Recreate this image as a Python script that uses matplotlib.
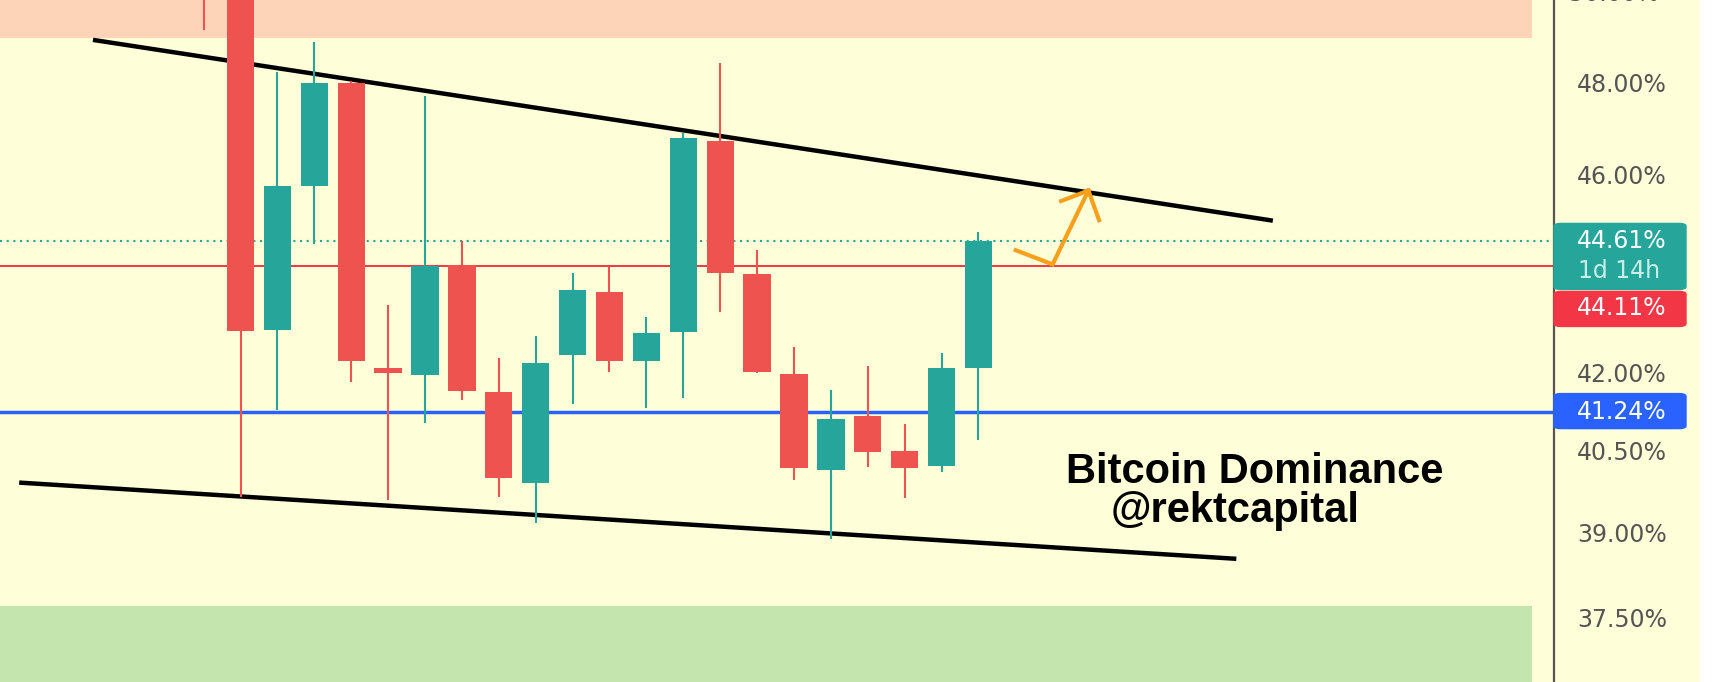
'''
Bitcoin Dominance daily candles with falling wedge trendlines.
'''

import matplotlib.pyplot as plt
from matplotlib.patches import Rectangle, FancyBboxPatch
from matplotlib.ticker import NullLocator, FixedLocator

# candle data (BTC dominance, %)
opens = [51.00, 50.30, 42.83, 45.77, 48.00, 42.07, 41.95, 44.13, 41.61, 39.91, 42.33,
         43.59, 42.22, 42.78, 46.73, 43.95, 41.97, 40.14, 41.15, 40.50, 40.22, 42.07]
highs = [51.50, 50.50, 48.24, 48.91, 48.05, 43.31, 47.71, 44.62, 42.27, 42.70, 43.97,
         44.08, 43.09, 46.89, 48.44, 44.44, 42.48, 41.65, 42.12, 41.00, 42.37, 44.80]
lows = [49.19, 39.65, 41.27, 44.55, 41.80, 39.59, 41.02, 41.46, 39.65, 39.17, 41.38,
        42.01, 41.31, 41.50, 43.18, 41.99, 39.95, 38.88, 40.20, 39.63, 40.10, 40.71]
closes = [50.20, 42.81, 45.77, 48.00, 42.22, 41.99, 44.11, 41.63, 39.99, 42.18, 43.62,
          42.22, 42.76, 46.80, 43.97, 42.01, 40.18, 41.10, 40.48, 40.18, 42.07, 44.61]

# horizontal levels
last_price = 44.61
red_level = 44.11
blue_level = 41.24
countdown = "1d 14h"

# wedge trendlines (bar index, %)
upper_x = [-3.0, 28.98]
upper_y = [48.96, 45.04]
lower_x = [-5.0, 27.99]
lower_y = [39.91, 38.53]

# orange projection arrow
arrow_x = [22.01, 23.01, 23.98]
arrow_y = [44.43, 44.14, 45.67]
arm_x = [23.24, 23.98, 24.27]
arm_y = [45.45, 45.67, 45.05]

# zones
zone_top = 49.0
zone_bottom = 37.7

yticks = [37.5, 39.0, 40.5, 42.0, 46.0, 48.0]

# colours
bg = '#fefed9'
up_col = '#26a69a'
down_col = '#ef5350'

W, H = 1722, 682
axis_px = 1554

fig = plt.figure(figsize=(W / 100, H / 100), dpi=100)
fig.patch.set_facecolor('white')
fig.patches.append(Rectangle((axis_px / W, 0), (1698 - axis_px) / W, 1,
                             transform=fig.transFigure, color=bg, zorder=-5))

ax = fig.add_axes([0, 0, axis_px / W, 1])
ax.set_facecolor(bg)
ax.set_yscale('log')
ax.set_ylim(36.40, 49.87)
ax.set_xlim(-5.52, 36.6)

zone_frac = (36.0 + 5.52) / (36.6 + 5.52)
ax.axhspan(zone_top, 60, xmin=0, xmax=zone_frac, color='#fdd4b8', lw=0, zorder=0)
ax.axhspan(30, zone_bottom, xmin=0, xmax=zone_frac, color='#c5e5ae', lw=0, zorder=0)

# levels
ax.axhline(last_price, color=up_col, lw=1.5, linestyle=(0, (1, 2.2)), zorder=1)
ax.axhline(red_level, color='#f23645', lw=1.4, zorder=1)
ax.axhline(blue_level, color='#2962ff', lw=2.5, zorder=1)

# trendlines
ax.plot(upper_x, upper_y, color='black', lw=3.2, solid_capstyle='butt', zorder=2)
ax.plot(lower_x, lower_y, color='black', lw=3.2, solid_capstyle='butt', zorder=2)

# candles
xs = list(range(len(opens)))
cols = [up_col if c >= o else down_col for o, c in zip(opens, closes)]
bottoms = [min(o, c) for o, c in zip(opens, closes)]
heights = [max(abs(c - o), 0.04) for o, c in zip(opens, closes)]
ax.vlines(xs, lows, highs, colors=cols, lw=1.5, zorder=3)
ax.bar(xs, heights, bottom=bottoms, width=0.74, color=cols, lw=0, zorder=4)

# arrow
ax.plot(arrow_x, arrow_y, color='#f9a01b', lw=3, solid_joinstyle='miter', zorder=5)
ax.plot(arm_x, arm_y, color='#f9a01b', lw=3, solid_joinstyle='miter', zorder=5)

# price scale
for s in ['left', 'top', 'bottom']:
    ax.spines[s].set_visible(False)
ax.spines['right'].set_color('#555555')
ax.spines['right'].set_linewidth(1.6)
ax.set_xticks([])
ax.yaxis.tick_right()
ax.yaxis.set_major_locator(FixedLocator(yticks))
ax.yaxis.set_minor_locator(NullLocator())
ax.set_yticklabels([f'{t:.2f}%' for t in yticks])
ax.tick_params(axis='y', length=0, pad=16.5, labelsize=17, labelcolor='#555555')
ax.text(1.0, 50.0, '  50.00%', transform=ax.get_yaxis_transform(), fontsize=17,
        color='#555555', ha='left', va='center', clip_on=False)


def ypix(v):
    return ax.transData.transform((0, v))[1]


def box(y0, y1, color):
    fig.patches.append(FancyBboxPatch((axis_px / W, y0 / H), (1686 - axis_px) / W, (y1 - y0) / H,
                                      boxstyle='round,pad=0,rounding_size=0.004',
                                      transform=fig.transFigure, color=color, zorder=5))


tx = 1577 / W
yp = ypix(last_price)
box(yp - 48, yp + 18, up_col)
fig.text(tx, yp / H, f'{last_price:.2f}%', fontsize=17, color='white', va='center', zorder=6)
fig.text(tx + 1 / W, (yp - 30) / H, countdown, fontsize=17, color='#c9eee8', va='center', zorder=6)
box(yp - 85, yp - 50, '#f23645')
fig.text(tx, (yp - 67) / H, f'{red_level:.2f}%', fontsize=17, color='white', va='center', zorder=6)
yb = ypix(blue_level)
box(yb - 17, yb + 18, '#2962ff')
fig.text(tx, yb / H, f'{blue_level:.2f}%', fontsize=17, color='white', va='center', zorder=6)

# title text
fig.text(1066 / W, 1 - 483 / H, 'Bitcoin Dominance', fontsize=30, fontweight='bold',
         family='Liberation Sans', color='black', va='baseline')
fig.text(1111 / W, 1 - 522 / H, '@rektcapital', fontsize=30, fontweight='bold',
         family='Liberation Sans', color='black', va='baseline')

plt.savefig('out.png', dpi=100, facecolor=fig.get_facecolor())
